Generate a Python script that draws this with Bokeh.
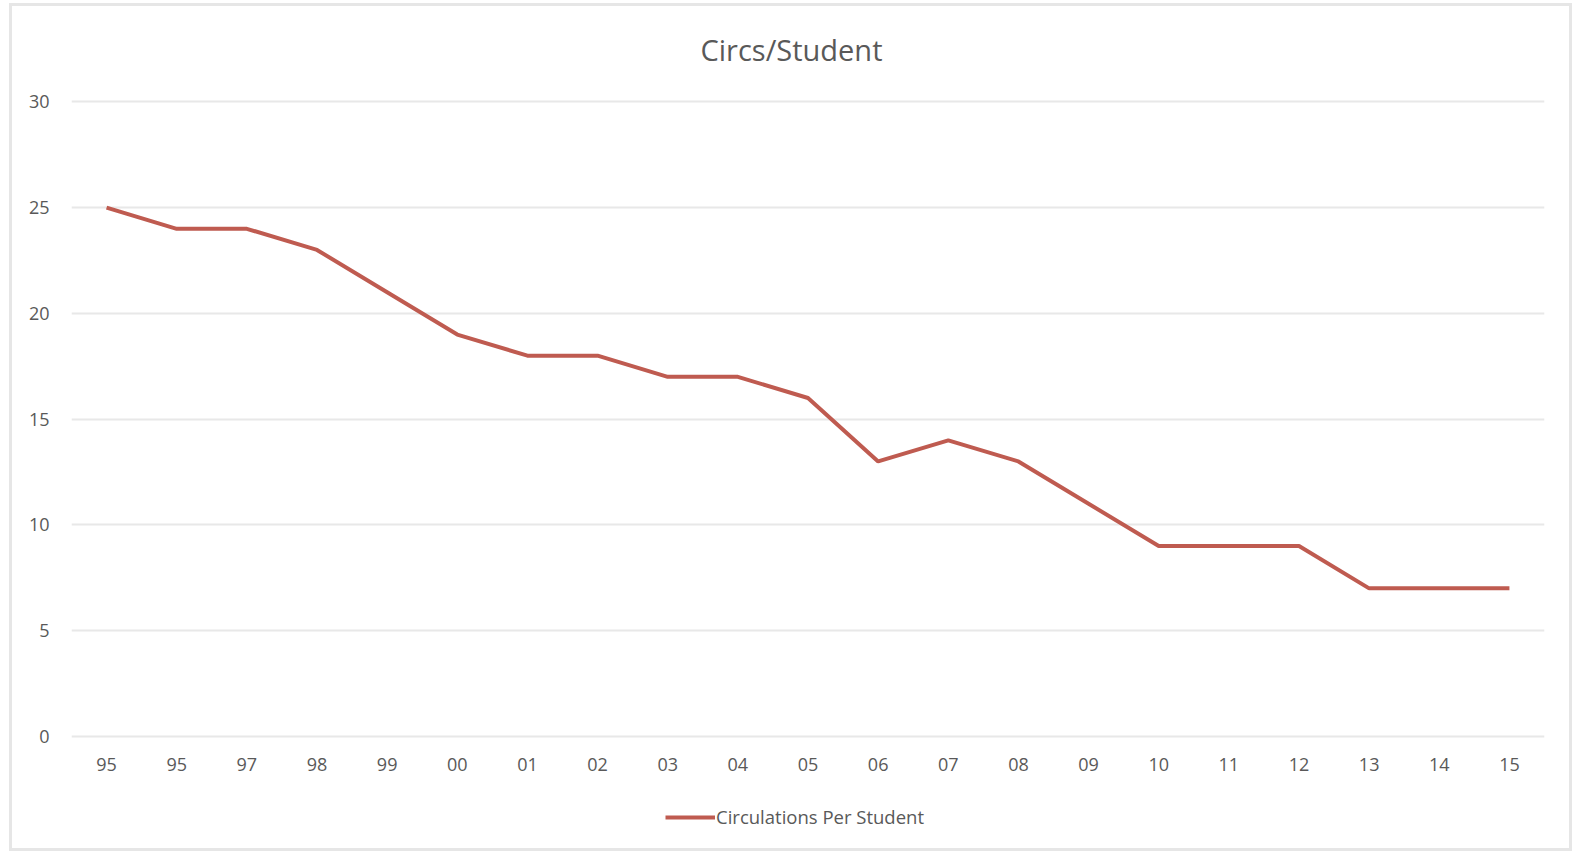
from bokeh.plotting import figure
from bokeh.models import Range1d, FixedTicker, Legend, LegendItem, Label
from bokeh.embed import file_html
from bokeh.resources import INLINE

title_text = "Circs/Student"
years = ["95", "95", "97", "98", "99", "00", "01", "02", "03", "04", "05",
         "06", "07", "08", "09", "10", "11", "12", "13", "14", "15"]
circs_per_student = [25, 24, 24, 23, 21, 19, 18, 18, 17, 17, 16,
                     13, 14, 13, 11, 9, 9, 9, 7, 7, 7]
y_ticks = [0, 5, 10, 15, 20, 25, 30]
series_name = "Circulations Per Student"

FONT = "Open Sans"
TXT = "#595959"
xs = list(range(len(years)))

p = figure(frame_width=1473, frame_height=842, output_backend="svg", toolbar_location=None,
           x_range=Range1d(-0.5, len(years) - 0.5), y_range=Range1d(-5.30, 34.51),
           min_border_left=59, min_border_right=25, min_border_top=0, min_border_bottom=0)
p.styles = {"margin-left": "9px", "margin-top": "3px", "border": "3px solid #E6E6E6"}
p.outline_line_color = None
p.background_fill_color = "white"
p.border_fill_color = "white"

p.add_layout(Label(x=720, y=799.5, x_units="screen", y_units="screen", text=title_text,
                   text_align="center", text_baseline="middle", text_font=FONT,
                   text_font_size="29px", text_color=TXT))

r = p.line(xs, circs_per_student, line_color="#BF5B50", line_width=4)

p.xaxis.ticker = FixedTicker(ticks=xs)
p.xaxis.major_label_overrides = {i: y for i, y in enumerate(years)}
p.xaxis.fixed_location = 0
p.yaxis.ticker = FixedTicker(ticks=y_ticks)
for ax in (p.xaxis[0], p.yaxis[0]):
    ax.axis_line_color = None
    ax.major_tick_line_color = None
    ax.minor_tick_line_color = None
    ax.major_tick_out = 0
    ax.minor_tick_out = 0
    ax.major_label_text_font = FONT
    ax.major_label_text_font_size = "18px"
    ax.major_label_text_color = TXT
p.xaxis.major_label_standoff = 22
p.yaxis.major_label_standoff = 22

p.xgrid.grid_line_color = None
p.ygrid.grid_line_color = "#E8E8E8"
p.ygrid.grid_line_width = 2

legend = Legend(items=[LegendItem(label=series_name, renderers=[r])],
                location=(594, 19), orientation="horizontal",
                label_text_font=FONT, label_text_font_size="18.5px", label_text_color=TXT,
                glyph_width=50, glyph_height=20, label_standoff=1,
                border_line_color=None, background_fill_alpha=0, margin=0, padding=0)
p.add_layout(legend, "center")

open("out.html", "w").write(file_html(p, INLINE))
